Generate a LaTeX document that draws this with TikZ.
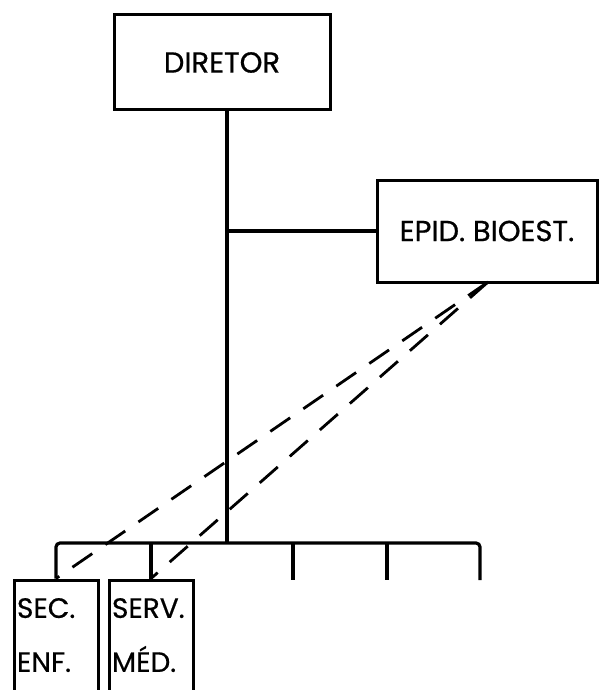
\documentclass[tikz,border=0pt]{standalone}
\usepackage{fontspec}
\setmainfont{Poppins}[FakeBold=0.6]
\tikzset{
  unit/.style={draw, line width=3pt, inner sep=0pt, font=\fontsize{29}{54}\selectfont},
  post/.style={unit, minimum width=84pt, minimum height=130pt, align=left,
    text width=78pt, text depth=74pt, font=\fontsize{28}{54}\selectfont},
  link/.style={line width=3.2pt},
  staff/.style={line width=2.8pt, dash pattern=on 24pt off 16pt},
}
\begin{document}
\begin{tikzpicture}[x=1pt, y=-1pt]
  \useasboundingbox (0,0) rectangle (599,690);
  \clip (0,0) rectangle (599,690);

  % boxes
  \node[unit, minimum width=216pt, minimum height=95pt] (dir) at (222,62.5) {DIRETOR};
  \node[unit, minimum width=220pt, minimum height=102pt] (epid) at (487,231) {EPID. BIOEST.};
  \node[post] (sec) at (56,645) {SEC.\\ENF.};
  \node[post] (serv) at (151,645) {SERV.\\MÉD.};

  % line of command
  \coordinate (bus) at (227,543);
  \draw[link] (dir.south -| bus) -- (bus);
  \draw[link] (bus |- epid.west) -- (epid.west);
  \draw[link, rounded corners=4pt] (sec.north) -- (sec.north |- bus) -- (480,543) -- (480,580);
  \foreach \x in {293,387}
    \draw[link] (\x,543) -- (\x,580);
  \draw[link] (serv.north |- bus) -- (serv.north);

  % staff lines
  \coordinate (tap) at (488,282);
  \draw[staff] (tap) -- (sec.north);
  \draw[staff] (tap) -- (serv.north);
\end{tikzpicture}
\end{document}
